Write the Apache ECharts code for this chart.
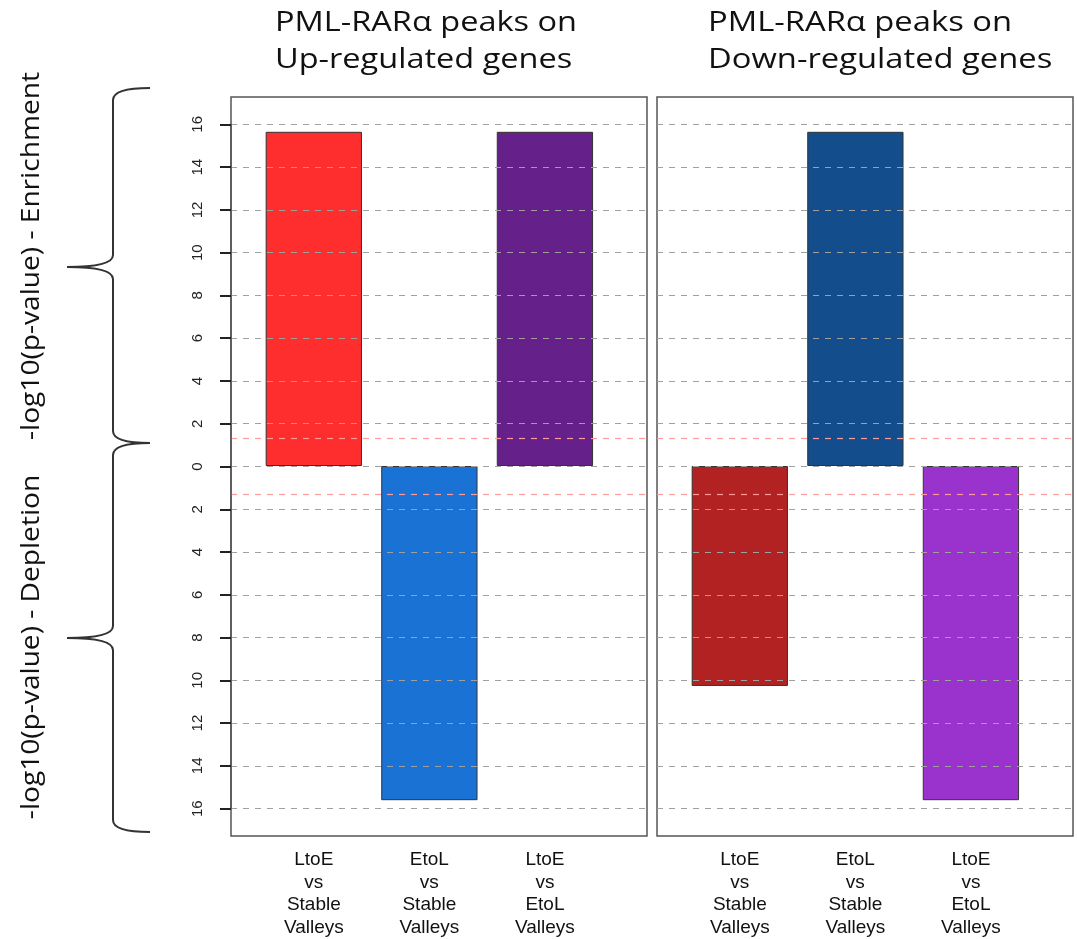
<!DOCTYPE html>
<html>
<head>
<meta charset="utf-8">
<script src="https://cdn.jsdelivr.net/npm/echarts@6/dist/echarts.min.js"></script>
<style>
  html, body { margin: 0; padding: 0; background: #fff; }
  #chart { width: 1077px; height: 939px; }
</style>
</head>
<body>
<div id="chart"></div>
<script>
// ---- data ----
const CATEGORIES_UP = ['LtoE\nvs\nStable\nValleys', 'EtoL\nvs\nStable\nValleys', 'LtoE\nvs\nEtoL\nValleys'];
const CATEGORIES_DOWN = ['LtoE\nvs\nStable\nValleys', 'EtoL\nvs\nStable\nValleys', 'LtoE\nvs\nEtoL\nValleys'];
// signed -log10(p): positive = enrichment, negative = depletion
const VALUES_UP = [15.65, -15.65, 15.65];
const VALUES_DOWN = [-10.3, 15.65, -15.65];
const COLORS_UP = ['#ff2e2e', '#1a72d4', '#65208a'];
const COLORS_DOWN = ['#b22222', '#134d8b', '#9a32cd'];
const Y_TICKS = [-16, -14, -12, -10, -8, -6, -4, -2, 0, 2, 4, 6, 8, 10, 12, 14, 16];
const Y_TICK_STEP = 2;
const SIGNIFICANCE = -Math.log10(0.05);
const TITLE_UP = ['PML-RARα peaks on', 'Up-regulated genes'];
const TITLE_DOWN = ['PML-RARα peaks on', 'Down-regulated genes'];
const Y_LABEL_TOP = '-log10(p-value) - Enrichment';
const Y_LABEL_BOTTOM = '-log10(p-value) - Depletion';

// ---- layout ----
const Y_RANGE = 16;
const Y_LIM = Y_RANGE * 1.08;       // plot region extends 4% past ±16
const PANEL_TOP = 97, PANEL_BOTTOM = 939 - 836;
const PANEL_HEIGHT = 939 - PANEL_TOP - PANEL_BOTTOM;
const PANEL_WIDTH = 416;
const PANEL_LEFTS = [231, 657];
const TICK_LEN = 11;
// x scale of each panel runs 0..4 (+4% each side); bars occupy 0.1..3.7
const X_SPAN = 4 * 1.08;
function barGrid(left) {
  return {
    left: left + (0.16 + 0.1) / X_SPAN * PANEL_WIDTH,
    width: 3.6 / X_SPAN * PANEL_WIDTH,
    top: PANEL_TOP, bottom: PANEL_BOTTOM
  };
}
// inner band covering exactly -16..16 for the left axis
const TICK_INSET = (Y_LIM - Y_RANGE) / (2 * Y_LIM) * PANEL_HEIGHT;

const ctx = document.createElement('canvas').getContext('2d');
function textWidth(text, font) { ctx.font = font; return ctx.measureText(text).width; }

const TITLE_FONT = '28px "Open Sans"';
const YLAB_FONT = '25px "Open Sans"';
const titleScaleL = 302 / textWidth(TITLE_UP[0], TITLE_FONT);
const titleScaleR = 304 / textWidth(TITLE_DOWN[0], TITLE_FONT);
const ylabScale = 368 / textWidth(Y_LABEL_TOP, YLAB_FONT);

function titleText(str, x, y, s) {
  return { type: 'text', x: x, y: y, scaleX: s, silent: true,
    style: { text: str, font: TITLE_FONT, fill: '#111', align: 'left', verticalAlign: 'middle' } };
}
function yLabel(str, x, y) {
  return { type: 'text', x: x, y: y, rotation: Math.PI / 2, scaleX: ylabScale, silent: true,
    style: { text: str, font: YLAB_FONT, fill: '#111', align: 'center', verticalAlign: 'middle' } };
}
// curly brace opening to the right, pointing left at its middle
function brace(top, mid, bottom) {
  const x = 113, tip = 67, end = 150, r = 12;
  const st = { stroke: '#333', lineWidth: 2, fill: 'none' };
  const curve = (x1, y1, cx, cy, x2, y2) => ({ type: 'bezierCurve', silent: true,
    shape: { x1: x1, y1: y1, cpx1: cx, cpy1: cy, x2: x2, y2: y2 }, style: st });
  const line = (x1, y1, x2, y2) => ({ type: 'line', silent: true,
    shape: { x1: x1, y1: y1, x2: x2, y2: y2 }, style: st });
  return { type: 'group', silent: true, children: [
    curve(end, top, x, top, x, top + r),
    line(x, top + r, x, mid - r),
    curve(x, mid - r, x, mid, tip, mid),
    curve(tip, mid, x, mid, x, mid + r),
    line(x, mid + r, x, bottom - r),
    curve(x, bottom - r, x, bottom, end, bottom)
  ] };
}

const valueAxisBase = { type: 'value', min: -Y_LIM, max: Y_LIM };

const GREY = { color: '#a0a0a0', type: [6, 6], width: 1 };
const RED = { color: '#ff9a9a', type: [6, 6], width: 1.2 };
function guideLines() {
  const grey = Y_TICKS.map(t => ({ yAxis: t, lineStyle: GREY }));
  const red = [SIGNIFICANCE, -SIGNIFICANCE].map(v => ({ yAxis: v, lineStyle: RED }));
  return grey.concat(red);
}

const catLabel = { margin: 14, fontFamily: 'Liberation Sans', fontSize: 19, lineHeight: 22.5, color: '#111' };

const option = {
  backgroundColor: '#fff',
  animation: false,
  grid: [
    { left: PANEL_LEFTS[0], width: PANEL_WIDTH, top: PANEL_TOP, bottom: PANEL_BOTTOM,
      show: true, borderColor: '#555', borderWidth: 1.5, backgroundColor: 'transparent' },
    { left: PANEL_LEFTS[1], width: PANEL_WIDTH, top: PANEL_TOP, bottom: PANEL_BOTTOM,
      show: true, borderColor: '#555', borderWidth: 1.5, backgroundColor: 'transparent' },
    barGrid(PANEL_LEFTS[0]),
    barGrid(PANEL_LEFTS[1]),
    { left: PANEL_LEFTS[0], width: PANEL_WIDTH,
      top: PANEL_TOP + TICK_INSET, bottom: PANEL_BOTTOM + TICK_INSET }
  ],
  xAxis: [
    { type: 'value', gridIndex: 0, min: 0, max: 1, show: false },
    { type: 'value', gridIndex: 1, min: 0, max: 1, show: false },
    { type: 'category', gridIndex: 2, data: CATEGORIES_UP,
      axisLine: { show: false }, axisTick: { show: false }, axisLabel: catLabel },
    { type: 'category', gridIndex: 3, data: CATEGORIES_DOWN,
      axisLine: { show: false }, axisTick: { show: false }, axisLabel: catLabel },
    { type: 'value', gridIndex: 4, min: 0, max: 1, show: false }
  ],
  yAxis: [
    Object.assign({}, valueAxisBase, { gridIndex: 0, show: false, splitLine: { show: false } }),
    Object.assign({}, valueAxisBase, { gridIndex: 1, show: false, splitLine: { show: false } }),
    Object.assign({}, valueAxisBase, { gridIndex: 2, show: false, splitLine: { show: false } }),
    Object.assign({}, valueAxisBase, { gridIndex: 3, show: false, splitLine: { show: false } }),
    { type: 'value', gridIndex: 4, min: -Y_RANGE, max: Y_RANGE, interval: Y_TICK_STEP,
      position: 'left', z: 10,
      axisLine: { show: true, onZero: false, lineStyle: { color: '#555', width: 1.5 } },
      axisTick: { show: true, inside: false, length: TICK_LEN, lineStyle: { color: '#222', width: 2 } },
      axisLabel: { show: true, rotate: 90, margin: 26,
        formatter: v => String(Math.abs(v)), fontFamily: 'Liberation Sans', fontSize: 15, color: '#222' },
      splitLine: { show: false } }
  ],
  series: [
    { type: 'line', xAxisIndex: 0, yAxisIndex: 0, data: [], silent: true,
      markLine: { silent: true, symbol: 'none', label: { show: false }, data: guideLines() } },
    { type: 'line', xAxisIndex: 1, yAxisIndex: 1, data: [], silent: true,
      markLine: { silent: true, symbol: 'none', label: { show: false }, data: guideLines() } },
    { type: 'bar', xAxisIndex: 2, yAxisIndex: 2, barWidth: '83.33%', z: 3,
      data: VALUES_UP.map((v, i) => ({ value: v, itemStyle: { color: COLORS_UP[i] } })),
      itemStyle: { borderColor: '#333', borderWidth: 1 } },
    { type: 'bar', xAxisIndex: 3, yAxisIndex: 3, barWidth: '83.33%', z: 3,
      data: VALUES_DOWN.map((v, i) => ({ value: v, itemStyle: { color: COLORS_DOWN[i] } })),
      itemStyle: { borderColor: '#333', borderWidth: 1 } }
  ],
  graphic: [
    titleText(TITLE_UP[0], 275, 23, titleScaleL),
    titleText(TITLE_UP[1], 275, 60, titleScaleL),
    titleText(TITLE_DOWN[0], 708, 23, titleScaleR),
    titleText(TITLE_DOWN[1], 708, 60, titleScaleR),
    yLabel(Y_LABEL_TOP, 32, 256),
    yLabel(Y_LABEL_BOTTOM, 32, 647),
    brace(88, 267, 443),
    brace(443, 638, 832)
  ]
};

const chart = echarts.init(document.getElementById('chart'), null, { renderer: 'canvas' });
chart.setOption(option);
</script>
</body>
</html>
